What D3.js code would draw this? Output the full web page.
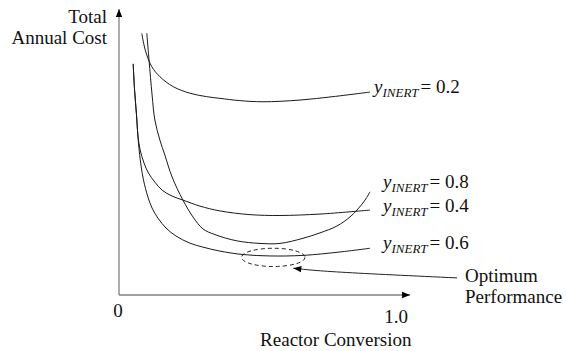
<!DOCTYPE html>
<html>
<head>
<meta charset="utf-8">
<script src="https://cdn.jsdelivr.net/npm/d3@7/dist/d3.min.js"></script>
<style>
  body { margin: 0; background: #fff; }
  svg { display: block; }
</style>
</head>
<body>
<svg id="chart" width="566" height="351"></svg>
<script>
// reactor conversion (0..1) vs total annual cost (arbitrary units)
const inertLevels = ['0.2', '0.8', '0.4', '0.6'];

const conv02 = [0.082, 0.090, 0.100, 0.118, 0.147, 0.195, 0.255, 0.315, 0.363, 0.435, 0.518, 0.651, 0.770, 0.903];
const cost02 = [91.8, 87.7, 84.2, 80.1, 76.6, 73.1, 70.8, 69.6, 69.0, 68.2, 67.8, 68.4, 69.6, 71.2];

const conv08 = [0.100, 0.108, 0.119, 0.129, 0.147, 0.165, 0.191, 0.230, 0.266, 0.302, 0.345, 0.424, 0.507, 0.579, 0.662, 0.723, 0.784, 0.831, 0.856, 0.885, 0.903];
const cost08 = [91.9, 82.5, 70.2, 61.4, 54.4, 49.1, 41.4, 33.3, 27.4, 23.2, 21.2, 19.0, 18.1, 18.1, 19.9, 21.8, 24.2, 27.4, 29.8, 33.3, 36.2];

const conv04 = [0.051, 0.056, 0.063, 0.068, 0.076, 0.090, 0.106, 0.129, 0.155, 0.191, 0.230, 0.291, 0.363, 0.471, 0.579, 0.723, 0.903];
const cost04 = [81.1, 71.9, 63.2, 56.1, 50.9, 46.3, 42.8, 39.6, 36.8, 34.7, 33.3, 31.2, 29.5, 28.2, 27.9, 28.4, 29.8];

const conv06 = [0.051, 0.056, 0.063, 0.070, 0.079, 0.088, 0.104, 0.119, 0.140, 0.169, 0.205, 0.255, 0.302, 0.363, 0.446, 0.543, 0.662, 0.795, 0.903];
const cost06 = [81.1, 71.9, 63.2, 53.3, 45.6, 40.4, 34.4, 30.5, 27.0, 23.5, 20.7, 18.2, 16.8, 15.4, 14.2, 13.7, 13.9, 15.1, 16.4];

// optimum region (dashed ellipse) and its callout
const optimumConv = [0.441, 0.669];
const optimumCost = [10.0, 16.4];
const calloutConv = [1.216, 0.80, 0.627];
const calloutCost = [6.0, 8.0, 9.4];

const tickValues = [0, 1];
const tickLabels = ['0', '1.0'];

const series = [
  { level: inertLevels[0], conv: conv02, cost: cost02 },
  { level: inertLevels[1], conv: conv08, cost: cost08 },
  { level: inertLevels[2], conv: conv04, cost: cost04 },
  { level: inertLevels[3], conv: conv06, cost: cost06 }
];

// label nudges (px) relative to the curve end
const labelOffset = { '0.2': [4, 1], '0.8': [13, -4], '0.4': [13, 1.5], '0.6': [13, 1] };

// pick the first serif face that is actually installed
function pickFont() {
  const candidates = ['Liberation Serif', 'Times New Roman', 'Tinos', 'DejaVu Serif', 'Noto Serif',
    'FreeSerif', 'Nimbus Roman', 'Nimbus Roman No9 L', 'Times', 'Noto Serif CJK SC', 'serif'];
  const ctx = document.createElement('canvas').getContext('2d');
  const sample = 'Reactor Conversion Annual Cost 0.8 mmmWWiil';
  const widthOf = (f) => { ctx.font = `19px ${f}`; return ctx.measureText(sample).width; };
  const mono = widthOf('monospace');
  const sans = widthOf('sans-serif');
  for (const name of candidates) {
    const w1 = widthOf(`"${name}", monospace`);
    const w2 = widthOf(`"${name}", sans-serif`);
    if (w1 !== mono && Math.abs(w1 - w2) < 0.01) return `"${name}", serif`;
  }
  return 'serif';
}
const FONT = pickFont();

const svg = d3.select('#chart').attr('font-family', FONT);
const x = d3.scaleLinear().domain([0, 1]).range([119, 397]);
const y = d3.scaleLinear().domain([0, 100]).range([295, 10]);

const defs = svg.append('defs');
defs.append('marker')
  .attr('id', 'head')
  .attr('viewBox', '0 0 10 10')
  .attr('refX', 10).attr('refY', 5)
  .attr('markerWidth', 9).attr('markerHeight', 8)
  .attr('markerUnits', 'userSpaceOnUse')
  .attr('orient', 'auto')
  .append('path').attr('d', 'M0,1 L10,5 L0,9 Z').attr('fill', '#000');

// axes
const axes = svg.append('g');
axes.append('line')
  .attr('x1', x(0)).attr('y1', y(0)).attr('x2', x(1.047)).attr('y2', y(0))
  .attr('stroke', '#808080').attr('stroke-width', 1.3).attr('marker-end', 'url(#head)');
axes.append('line')
  .attr('x1', x(0)).attr('y1', y(0)).attr('x2', x(0)).attr('y2', y(100.35))
  .attr('stroke', '#808080').attr('stroke-width', 1.3).attr('marker-end', 'url(#head)');

const txt = (sel) => sel.attr('font-family', FONT).attr('fill', '#111');

svg.append('g').selectAll('text')
  .data(tickValues)
  .join('text')
  .call(txt)
  .attr('x', (d) => x(d) - 1)
  .attr('y', (d, i) => (i === 0 ? 317 : 323))
  .attr('text-anchor', 'middle')
  .attr('font-size', 19)
  .text((d, i) => tickLabels[i]);

svg.append('text')
  .call(txt)
  .attr('x', x(0.78)).attr('y', 346)
  .attr('text-anchor', 'middle').attr('font-size', 19)
  .text('Reactor Conversion');

const yTitle = svg.append('text').call(txt).attr('text-anchor', 'end').attr('font-size', 19);
yTitle.append('tspan').attr('x', 107).attr('y', 23).text('Total');
yTitle.append('tspan').attr('x', 107).attr('y', 44).text('Annual Cost');

// cost curves
const line = d3.line()
  .x((d) => x(d[0]))
  .y((d) => y(d[1]))
  .curve(d3.curveCatmullRom.alpha(0.5));

svg.append('g').selectAll('path')
  .data(series)
  .join('path')
  .attr('d', (s) => line(s.conv.map((c, i) => [c, s.cost[i]])))
  .attr('fill', 'none')
  .attr('stroke', '#1a1a1a')
  .attr('stroke-width', 1);

const labels = svg.append('g').selectAll('text')
  .data(series)
  .join('text')
  .call(txt)
  .attr('x', (s) => x(s.conv[s.conv.length - 1]) + labelOffset[s.level][0])
  .attr('y', (s) => y(s.cost[s.cost.length - 1]) + labelOffset[s.level][1])
  .attr('font-size', 19);
labels.append('tspan').attr('font-style', 'italic').text('y');
labels.append('tspan').attr('font-style', 'italic').attr('font-size', 13).attr('dy', 4).text('INERT');
labels.append('tspan').attr('dy', -4).attr('dx', 2).text((s) => '= ' + s.level);

// optimum ellipse
svg.append('ellipse')
  .attr('cx', (x(optimumConv[0]) + x(optimumConv[1])) / 2)
  .attr('cy', (y(optimumCost[0]) + y(optimumCost[1])) / 2)
  .attr('rx', (x(optimumConv[1]) - x(optimumConv[0])) / 2)
  .attr('ry', (y(optimumCost[0]) - y(optimumCost[1])) / 2)
  .attr('fill', 'none')
  .attr('stroke', '#222')
  .attr('stroke-width', 1)
  .attr('stroke-dasharray', '4,3');

const callout = d3.line().x((d) => x(d[0])).y((d) => y(d[1])).curve(d3.curveNatural);
svg.append('path')
  .attr('d', callout(calloutConv.map((c, i) => [c, calloutCost[i]])))
  .attr('fill', 'none')
  .attr('stroke', '#222')
  .attr('stroke-width', 1)
  .attr('marker-end', 'url(#head)');

const opt = svg.append('text').call(txt).attr('font-size', 19);
opt.append('tspan').attr('x', 465).attr('y', 282).text('Optimum');
opt.append('tspan').attr('x', 465).attr('y', 303).text('Performance');
</script>
</body>
</html>
